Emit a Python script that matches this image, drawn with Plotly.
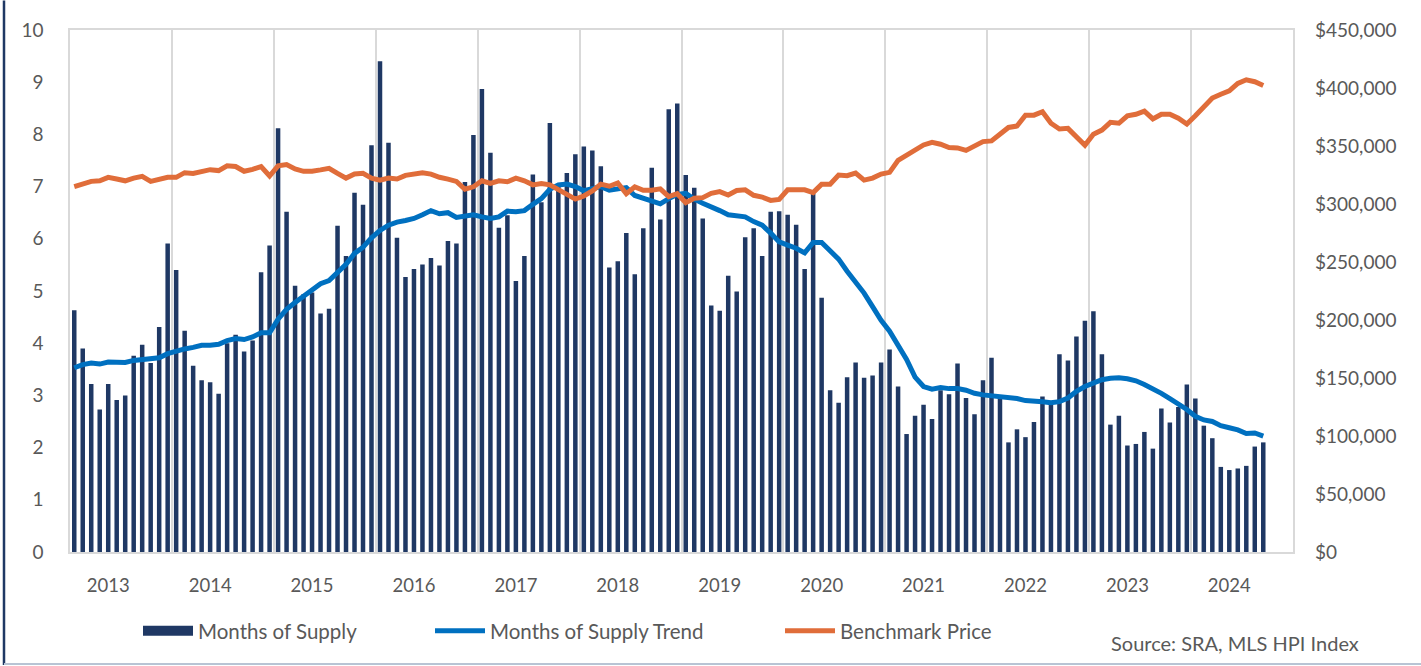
import plotly.graph_objects as go

# Monthly data, Sep 2012 - May 2024
months_of_supply = [
    4.63, 3.90, 3.22, 2.73, 3.22, 2.91, 3.00, 3.76, 3.97, 3.62, 4.31, 5.91,
    5.40, 4.24, 3.57, 3.29, 3.25, 3.03, 4.00, 4.16, 3.84, 4.05, 5.36, 5.87,
    8.12, 6.52, 5.10, 4.94, 4.97, 4.57, 4.66, 6.25, 5.67, 6.88, 6.65, 7.79,
    9.40, 7.84, 6.02, 5.27, 5.42, 5.51, 5.63, 5.49, 5.96, 5.91, 7.09, 7.99,
    8.87, 7.65, 6.21, 6.45, 5.19, 5.67, 7.23, 6.70, 8.22, 7.05, 7.26, 7.62,
    7.77, 7.69, 7.39, 5.45, 5.57, 6.11, 5.32, 6.20, 7.36, 6.37, 8.48, 8.59,
    7.22, 6.98, 6.39, 4.72, 4.62, 5.29, 4.99, 6.03, 6.20, 5.67, 6.52, 6.53,
    6.46, 6.27, 5.42, 6.87, 4.87, 3.10, 2.86, 3.35, 3.63, 3.34, 3.38, 3.63,
    3.88, 3.17, 2.26, 2.61, 2.82, 2.55, 3.10, 3.02, 3.61, 2.95, 2.64, 3.29,
    3.72, 2.96, 2.10, 2.35, 2.20, 2.49, 2.98, 2.87, 3.79, 3.67, 4.13, 4.43,
    4.61, 3.79, 2.44, 2.61, 2.04, 2.07, 2.30, 1.98, 2.75, 2.48, 2.78, 3.21,
    2.94, 2.42, 2.18, 1.63, 1.57, 1.60, 1.65, 2.02, 2.10,
]

supply_trend = [
    3.53, 3.59, 3.62, 3.60, 3.64, 3.63, 3.63, 3.67, 3.68, 3.69, 3.72, 3.80,
    3.85, 3.89, 3.92, 3.96, 3.96, 3.98, 4.05, 4.09, 4.07, 4.12, 4.20, 4.20,
    4.46, 4.65, 4.78, 4.91, 5.02, 5.14, 5.20, 5.36, 5.51, 5.72, 5.84, 6.02,
    6.16, 6.26, 6.32, 6.35, 6.39, 6.46, 6.54, 6.48, 6.50, 6.41, 6.44, 6.46,
    6.42, 6.39, 6.42, 6.53, 6.52, 6.54, 6.66, 6.77, 6.95, 7.03, 7.05, 7.00,
    6.92, 6.95, 7.00, 6.93, 6.96, 6.98, 6.83, 6.77, 6.71, 6.67, 6.77, 6.85,
    6.87, 6.76, 6.68, 6.62, 6.54, 6.46, 6.43, 6.42, 6.33, 6.26, 6.11, 5.94,
    5.88, 5.82, 5.73, 5.93, 5.93, 5.78, 5.61, 5.38, 5.17, 4.96, 4.70, 4.44,
    4.23, 3.97, 3.69, 3.35, 3.17, 3.12, 3.15, 3.13, 3.13, 3.10, 3.04, 3.01,
    2.99, 2.99, 2.97, 2.94, 2.90, 2.90, 2.88, 2.86, 2.88, 2.95, 3.08, 3.17,
    3.24, 3.30, 3.33, 3.34, 3.32, 3.28, 3.21, 3.13, 3.04, 2.94, 2.84, 2.73,
    2.60, 2.53, 2.50, 2.42, 2.38, 2.34, 2.27, 2.28, 2.22,
]

benchmark_price = [
    315000, 317700, 319500, 320000, 323000, 321500, 320000, 322300, 323800, 319500, 320900, 323000,
    323000, 327000, 326400, 328200, 329600, 328800, 332900, 332300, 328200, 329900, 332300, 324100,
    332900, 334000, 330200, 328200, 328200, 329400, 330800, 326400, 322300, 325800, 326400, 322300,
    320600, 322300, 321500, 324700, 326400, 327000, 325800, 323000, 321500, 319500, 312700, 314800,
    320000, 317700, 320000, 319200, 322300, 320000, 316500, 317700, 316500, 312700, 308900, 304200,
    306900, 311300, 317100, 315300, 318200, 308900, 314800, 311900, 311900, 313100, 306300, 308900,
    301100, 305000, 305500, 309200, 310700, 307800, 311600, 312200, 307500, 306000, 303100, 304000,
    312200, 312700, 312200, 309800, 317100, 317100, 325000, 324400, 326700, 320600, 322300, 325800,
    327300, 337600, 342000, 346200, 350900, 353200, 351500, 348600, 348300, 346200, 350000, 353800,
    354400, 360200, 366000, 367200, 376600, 376600, 379500, 369600, 364600, 365200, 357900, 350600,
    360200, 363700, 370400, 369600, 376000, 377400, 380100, 373400, 377400, 377400, 373900, 369000,
    376000, 383600, 391400, 394600, 397500, 403900, 407100, 405400, 402200,
]

first_month_offset = 4          # Sep 2012 -> Jan 2013 is 4 months later
year_labels = [str(y) for y in range(2013, 2025)]

x = list(range(len(months_of_supply)))
tick_positions = [first_month_offset + 12 * i for i in range(len(year_labels))]

FONT = "Lato"
TXT = "#595959"
GRID = "#D9D9D9"
NAVY = "#1F3864"

W, H = 1421, 666
PL, PR, PT, PB = 70, 1293, 29.5, 552          # plot box in page pixels
L, T = PL, PT
R = W - PR
B = H - PB
pw, ph = W - L - R, H - T - B


def px_x(p):
    return (p - L) / pw


def px_y(p):
    return (H - B - p) / ph


fig = go.Figure()
fig.add_trace(go.Bar(
    x=x, y=months_of_supply, name="Months of Supply",
    marker=dict(color=NAVY, line=dict(width=0)),
    showlegend=False, yaxis="y",
))
# legend key for the bars (wide rectangle like the original)
fig.add_trace(go.Scatter(
    x=[None], y=[None], name="Months of Supply", mode="lines",
    line=dict(color=NAVY, width=12), legend="legend", yaxis="y",
))
fig.add_trace(go.Scatter(
    x=x, y=supply_trend, name="Months of Supply Trend", mode="lines",
    line=dict(color="#0070C0", width=5), legend="legend2", yaxis="y",
))
fig.add_trace(go.Scatter(
    x=x, y=benchmark_price, name="Benchmark Price", mode="lines",
    line=dict(color="#E06D3A", width=5), legend="legend3", yaxis="y2",
))

legend_common = dict(
    orientation="h", yanchor="middle", xanchor="left",
    font=dict(family=FONT, size=20.5, color=TXT),
    bgcolor="rgba(0,0,0,0)", itemwidth=50, itemclick=False, itemdoubleclick=False,
)

tickfont = dict(family=FONT, size=19, color=TXT)

fig.update_layout(
    width=W, height=H,
    margin=dict(l=L, r=R, t=T, b=B, autoexpand=False),
    paper_bgcolor="white", plot_bgcolor="white",
    bargap=0.47,
    font=dict(family=FONT, size=19, color=TXT),
    xaxis=dict(
        range=[-0.5, 143.5],
        tickmode="array", tickvals=tick_positions, ticktext=year_labels,
        showgrid=False, zeroline=False,
        showline=True, mirror=True, linecolor=GRID, linewidth=1.5,
        ticks="", ticklabelstandoff=16, tickfont=dict(family=FONT, size=18.5, color=TXT),
        minor=dict(tickmode="linear", tick0=-0.5, dtick=12, showgrid=True,
                   gridcolor=GRID, gridwidth=1.5, ticks=""),
    ),
    yaxis=dict(
        range=[0, 10], dtick=1, showgrid=False, zeroline=False,
        showline=True, mirror=True, linecolor=GRID, linewidth=1.5,
        ticks="", ticklabelstandoff=21, tickfont=tickfont,
    ),
    yaxis2=dict(
        range=[0, 450000], dtick=50000, overlaying="y", side="right",
        tickprefix="$", tickformat=",", showgrid=False, zeroline=False,
        showline=False, ticks="", ticklabelstandoff=21, tickfont=tickfont,
    ),
    legend=dict(x=px_x(138), y=px_y(631), **legend_common),
    legend2=dict(x=px_x(430), y=px_y(631), **legend_common),
    legend3=dict(x=px_x(780), y=px_y(631), **legend_common),
    showlegend=True,
)

fig.add_annotation(
    text="Source: SRA, MLS HPI Index", xref="paper", yref="paper",
    x=px_x(1361), y=px_y(643), xanchor="right", yanchor="middle",
    showarrow=False, font=dict(family=FONT, size=20, color=TXT),
)

# frame decoration of the surrounding panel
fig.add_shape(type="line", xref="paper", yref="paper",
              x0=px_x(4), x1=px_x(4), y0=px_y(0), y1=px_y(665),
              line=dict(color=NAVY, width=2.5))
fig.add_shape(type="line", xref="paper", yref="paper",
              x0=px_x(4), x1=px_x(1421), y0=px_y(664), y1=px_y(664),
              line=dict(color="#B8C4D4", width=2))

fig.write_html(
    "out.html",
    config={"displayModeBar": False},
    post_script="document.body.style.margin='0';document.body.style.overflow='hidden';",
)
